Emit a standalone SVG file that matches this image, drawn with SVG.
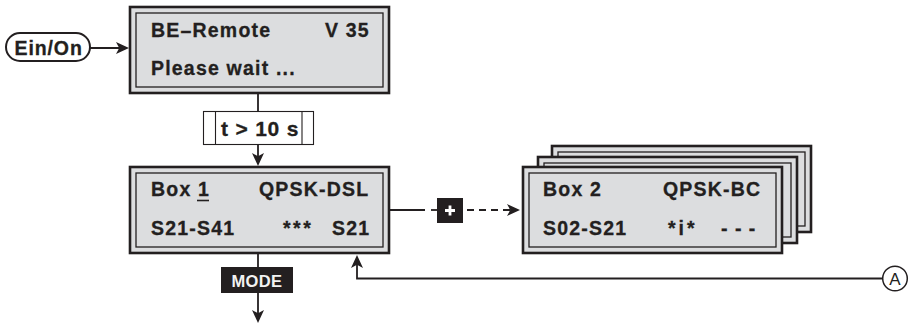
<svg xmlns="http://www.w3.org/2000/svg" width="910" height="326" viewBox="0 0 910 326">
<style>
.ln{stroke:#231f20;stroke-width:1.8;fill:none}
.ds{stroke:#231f20;stroke-width:1.8;fill:none;stroke-dasharray:7 5}
.ob{fill:#dcdddf;stroke:#231f20;stroke-width:2.6}
.ib{fill:none;stroke:#231f20;stroke-width:1.3}
.tx{font-family:"Liberation Sans",Arial,sans-serif;font-weight:bold;font-size:19.5px;letter-spacing:1.2px;fill:#231f20;stroke:#231f20;stroke-width:0.3}
.wt{font-family:"Liberation Sans",Arial,sans-serif;font-weight:bold;font-size:16.5px;letter-spacing:0.3px;fill:#f2f2f2}
</style>
<defs>
<marker id="ah" markerUnits="userSpaceOnUse" markerWidth="14" markerHeight="12" refX="10" refY="6" orient="auto" viewBox="0 0 14 12">
<path d="M0,0 L13,6 L0,12 L3.2,6 Z" fill="#231f20"/>
</marker>
</defs>
<rect width="910" height="326" fill="#ffffff"/>
<g id="connectors">
<path class="ln" d="M90,48 H126" marker-end="url(#ah)"/>
<path class="ln" d="M258,93 V111"/>
<path class="ln" d="M258,144 V163" marker-end="url(#ah)"/>
<path class="ln" d="M389,210 H425"/>
<path class="ln" d="M431,210 H437"/>
<path class="ds" d="M467,210 H517" marker-end="url(#ah)"/>
<path class="ln" d="M258,253 V267"/>
<path class="ln" d="M258,293 V320" marker-end="url(#ah)"/>
<path class="ln" d="M882,278.5 H357 V258" marker-end="url(#ah)"/>
</g>
<g id="ein-on">
<rect x="6" y="33" width="84" height="28" rx="14" fill="#ffffff" stroke="#231f20" stroke-width="2"/>
<text class="tx" x="14.5" y="54.5" style="letter-spacing:0.9px">Ein/On</text>
</g>
<g id="box-be-remote">
<rect class="ob" x="130" y="7" width="259" height="86"/>
<rect class="ib" x="136" y="13" width="247" height="74"/>
<text class="tx" x="151" y="36.5">BE–Remote</text>
<text class="tx" x="325" y="36.5">V 35</text>
<text class="tx" x="151" y="75">Please wait ...</text>
</g>
<g id="timer">
<rect x="203.5" y="111.5" width="110" height="33" fill="#ffffff" stroke="#231f20" stroke-width="1.1"/>
<path d="M215.5,111.5 V144.5 M302,111.5 V144.5" stroke="#231f20" stroke-width="1.1"/>
<text class="tx" x="221" y="135.5" style="font-size:21px;letter-spacing:0.8px">t &gt; 10 s</text>
</g>
<g id="box-1">
<rect class="ob" x="130" y="167" width="259" height="86"/>
<rect class="ib" x="136" y="173" width="247" height="74"/>
<text class="tx" x="151" y="196">Box 1</text>
<path d="M197,200.5 H209" stroke="#231f20" stroke-width="1.6"/>
<text class="tx" x="259" y="196">QPSK-DSL</text>
<text class="tx" x="151" y="235">S21-S41</text>
<text class="tx" x="283" y="235" style="letter-spacing:2.5px">***</text>
<text class="tx" x="332" y="235">S21</text>
</g>
<g id="plus-key">
<rect x="437" y="198" width="26" height="25" fill="#231f20"/>
<path d="M445,210.5 H455 M450,205.5 V215.5" stroke="#ffffff" stroke-width="2.8"/>
</g>
<g id="box-2-stack">
<rect class="ob" x="552" y="146" width="259" height="86"/>
<rect class="ib" x="558" y="152" width="247" height="74"/>
<rect class="ob" x="538" y="157" width="259" height="86"/>
<rect class="ib" x="544" y="163" width="247" height="74"/>
<rect class="ob" x="523" y="167" width="259" height="86"/>
<rect class="ib" x="529" y="173" width="247" height="74"/>
<text class="tx" x="543" y="196">Box 2</text>
<text class="tx" x="663" y="196">QPSK-BC</text>
<text class="tx" x="543" y="235">S02-S21</text>
<text class="tx" x="668" y="235" style="letter-spacing:3px">*i*</text>
<text class="tx" x="721" y="235" style="letter-spacing:1px">- - -</text>
</g>
<g id="mode-key">
<rect x="221" y="267" width="72" height="26" fill="#231f20"/>
<text class="wt" x="231.5" y="286.5">MODE</text>
</g>
<g id="ref-a">
<circle cx="895" cy="278.5" r="12.3" fill="#ffffff" stroke="#231f20" stroke-width="1.5"/>
<text x="895" y="284.8" text-anchor="middle" font-family="Liberation Sans, Arial, sans-serif" font-size="17" fill="#231f20">A</text>
</g>
</svg>
